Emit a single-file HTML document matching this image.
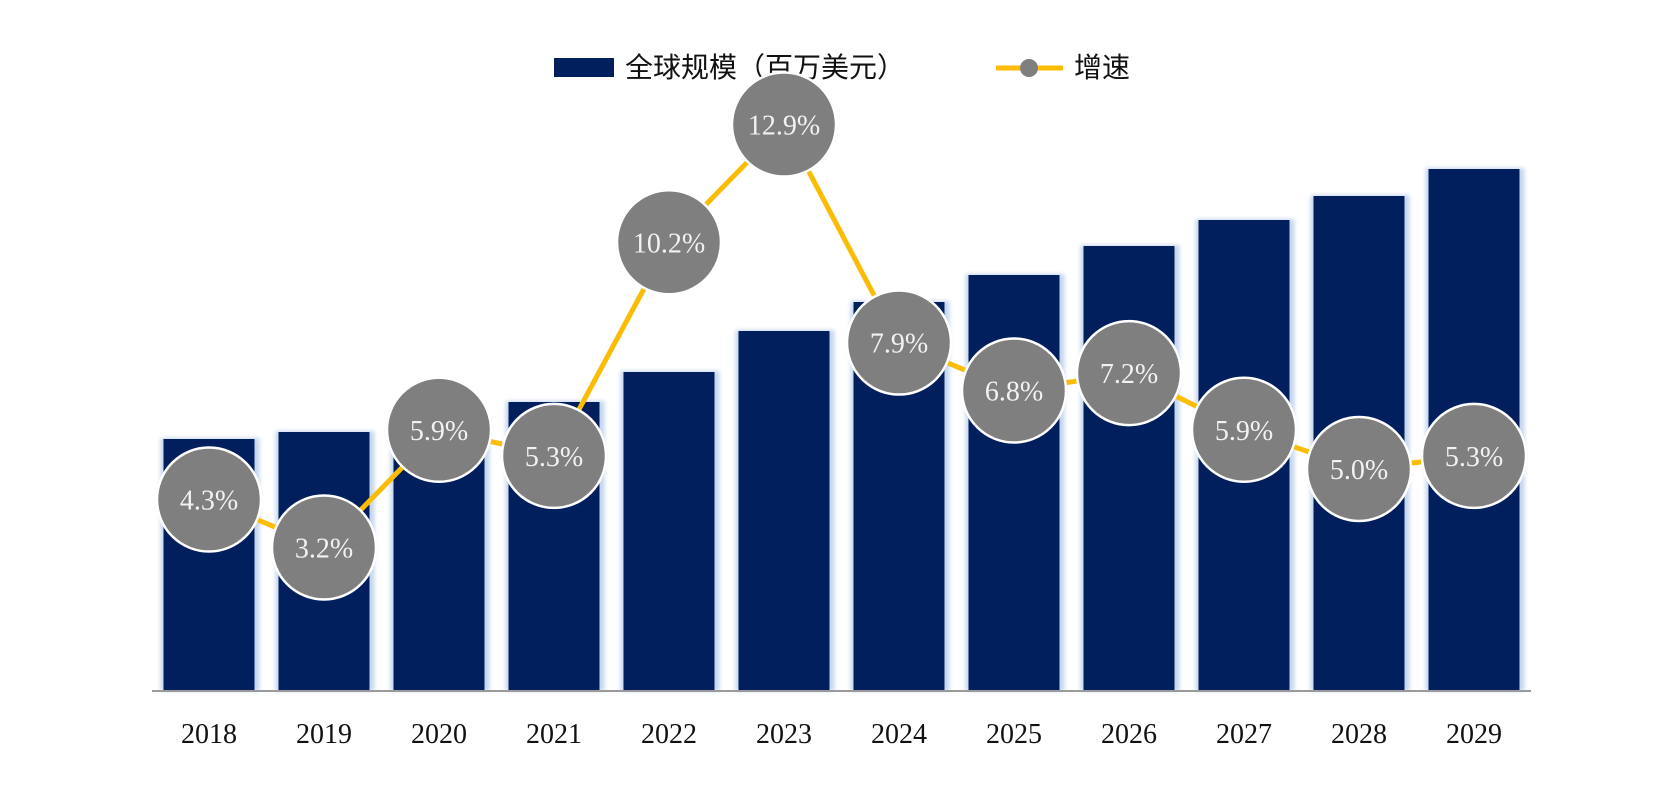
<!DOCTYPE html>
<html><head><meta charset="utf-8"><style>
html,body{margin:0;padding:0;background:#fff;}
svg{display:block;}
</style></head><body>
<svg id="chart" width="1659" height="805" xmlns="http://www.w3.org/2000/svg">
<defs>
<filter id="glow" x="-20%" y="-5%" width="140%" height="110%">
<feGaussianBlur stdDeviation="2"/>
</filter>
</defs>
<g>
<rect x="554" y="58" width="60" height="19" fill="#001f5c"/>
<text x="625" y="77" font-size="28" font-family="'Liberation Sans','Noto Sans CJK SC',sans-serif" fill="#111">全球规模（百万美元）</text>
<line x1="996" y1="68" x2="1063" y2="68" stroke="#fbbc05" stroke-width="5"/>
<circle cx="1029" cy="68" r="9" fill="#7f7f7f"/>
<text x="1074" y="77" font-size="28" font-family="'Liberation Sans','Noto Sans CJK SC',sans-serif" fill="#111">增速</text>
</g>
<g id="bars"></g>
<line x1="152" y1="691" x2="1531" y2="691" stroke="#9a9a9a" stroke-width="2"/>
<g id="labels"></g>
<g id="line"></g>
<g id="points"></g>
</svg>
<script>
const years = ["2018","2019","2020","2021","2022","2023","2024","2025","2026","2027","2028","2029"];
const sizeValues = [252,259,274,289,319,360,389,416,445,471,495,522];
const growthValues = [4.3,3.2,5.9,5.3,10.2,12.9,7.9,6.8,7.2,5.9,5.0,5.3];
const growthLabels = ["4.3%","3.2%","5.9%","5.3%","10.2%","12.9%","7.9%","6.8%","7.2%","5.9%","5.0%","5.3%"];
const NS="http://www.w3.org/2000/svg";
const x0=209, step=115, bw=91, base=691;
const xPos=i=>x0+step*i;
const ySize=v=>base-v;
const yGrowth=v=>687-43.6*v;
function mk(t,a){const e=document.createElementNS(NS,t);for(const k in a)e.setAttribute(k,a[k]);return e;}
const gb=document.getElementById('bars'),gl=document.getElementById('labels'),gline=document.getElementById('line'),gp=document.getElementById('points');
years.forEach((y,i)=>{
  const cx=xPos(i),top=ySize(sizeValues[i]);
  const sh=mk('rect',{x:cx-bw/2-3,y:top-1,width:bw+8,height:base-top+1,fill:'#c5d6ee',filter:'url(#glow)'});
  
  
  gb.appendChild(sh);
  const r=mk('rect',{x:cx-bw/2,y:top,width:bw,height:base-top,fill:'#001f5c'});
  
  
  gb.appendChild(r);
  const t=mk('text',{x:cx,y:743,'text-anchor':'middle','font-size':'28','font-family':"'Liberation Serif',serif",fill:'#111'});
  t.textContent=y;
  
  
  gl.appendChild(t);
});
const pts=growthValues.map((v,i)=>xPos(i)+','+yGrowth(v)).join(' ');
const pl=mk('polyline',{points:pts,fill:'none',stroke:'#fbbc05','stroke-width':'5'});


gline.appendChild(pl);
growthValues.forEach((v,i)=>{
  const cx=xPos(i),cy=yGrowth(v);
  const c=mk('circle',{cx:cx,cy:cy,r:52,fill:'#7f7f7f',stroke:'#fff','stroke-width':'2.5'});
  
  
  gp.appendChild(c);
  const t=mk('text',{x:cx,y:cy+10,'text-anchor':'middle','font-size':'28','font-family':"'Liberation Serif',serif",fill:'#f2f2f2'});
  t.textContent=growthLabels[i];
  
  
  gp.appendChild(t);
});
</script>
</body></html>
